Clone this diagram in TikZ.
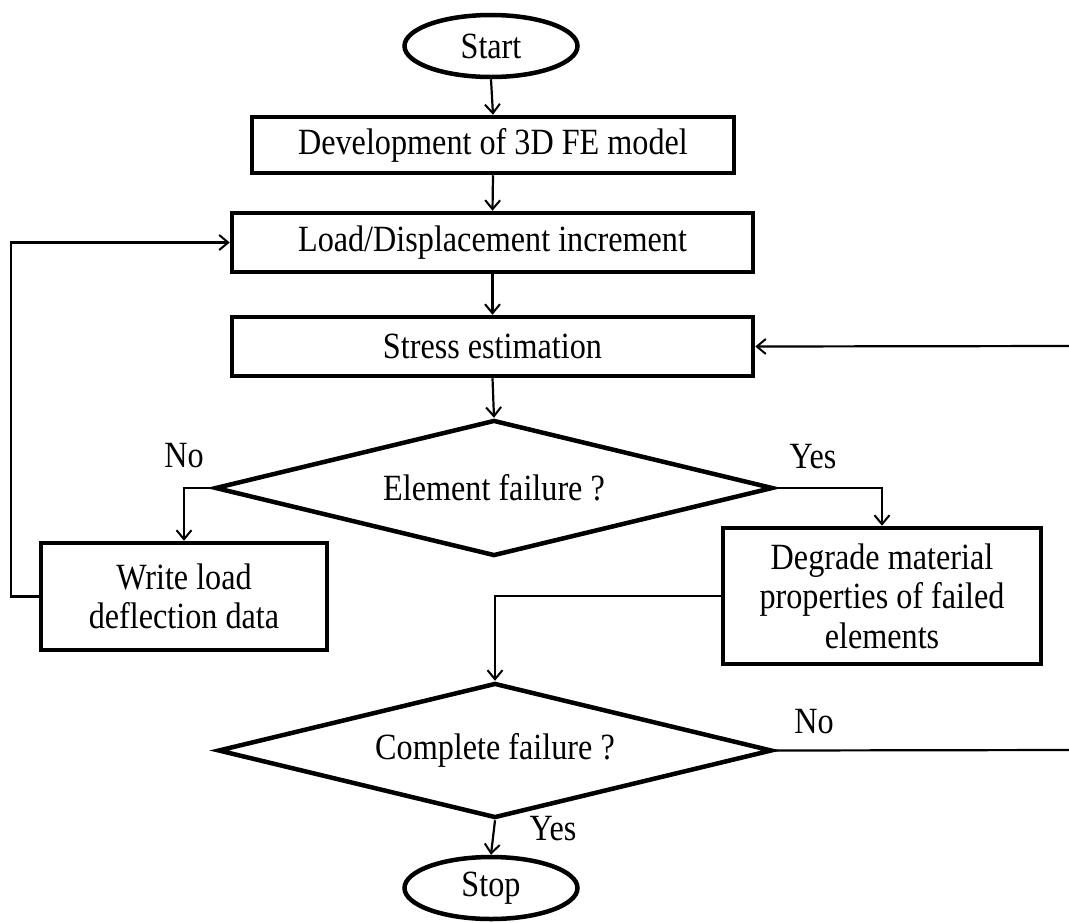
\documentclass[tikz,border=0pt]{standalone}
\usepackage{fontspec}
\setmainfont[FakeStretch=0.87]{Liberation Serif}
\usetikzlibrary{shapes.geometric,arrows.meta}
\begin{document}
\begin{tikzpicture}[x=1pt,y=-1pt,
  txt/.style={font=\fontsize{37}{39.5}\selectfont},
  box/.style={txt,draw,line width=4.5pt,rectangle,inner sep=0pt,align=center},
  term/.style={txt,draw,line width=4.5pt,ellipse,inner sep=0pt,minimum width=173pt,minimum height=62pt},
  dec/.style={txt,draw,line width=4.5pt,diamond,aspect=4.1,inner sep=0pt},
  lbl/.style={txt,inner sep=0pt},
  conn/.style={line width=2.2pt},
  arr/.style={conn,-{Straight Barb[length=9pt,width=15pt,line width=2pt]}}]
\useasboundingbox (0,0) rectangle (1069,922);
\node[term] (start) at (491,46) {Start};
\node[box,minimum width=482pt,minimum height=56pt] (dev) at (493,145) {Development of 3D FE model};
\node[box,minimum width=521pt,minimum height=59pt] (load) at (492.5,242.5) {Load/Displacement increment};
\node[box,minimum width=521pt,minimum height=59pt] (stress) at (492.5,346.5) {Stress estimation};
\node[dec,minimum width=558pt,minimum height=136pt] (elem) at (494,488) {Element failure ?};
\node[box,minimum width=286pt,minimum height=107pt] (write) at (184,596.5) {Write load\\deflection data};
\node[box,minimum width=318pt,minimum height=136pt] (deg) at (882,596) {Degrade material\\properties of failed\\elements};
\node[dec,minimum width=554pt,minimum height=135pt] (comp) at (495,750.5) {Complete failure ?};
\node[term] (stop) at (491,888) {Stop};
\node[lbl] (no1) at (184,456) {No};
\node[lbl] (yes1) at (813,457) {Yes};
\node[lbl] (no2) at (814,722) {No};
\node[lbl] (yes2) at (553,829) {Yes};
\coordinate (rin) at (1069,346);
\coordinate (rout) at (1069,750);
\draw[arr] (start.south) -- (dev.north);
\draw[arr] (dev.south) -- (load.north);
\draw[arr] (load.south) -- (stress.north);
\draw[arr] (stress.south) -- (elem.north);
\draw[arr] (elem.west) -| (write.north);
\draw[arr] (elem.east) -| (deg.north);
\draw[arr] (write.west) -- (11,596.5) |- (load.west);
\draw[arr] (deg.west) -| (comp.north);
\draw[conn] (comp.east) -- (rout);
\draw[arr] (rin) -- (stress.east);
\draw[arr] (comp.south) -- (stop.north);
\end{tikzpicture}
\end{document}
